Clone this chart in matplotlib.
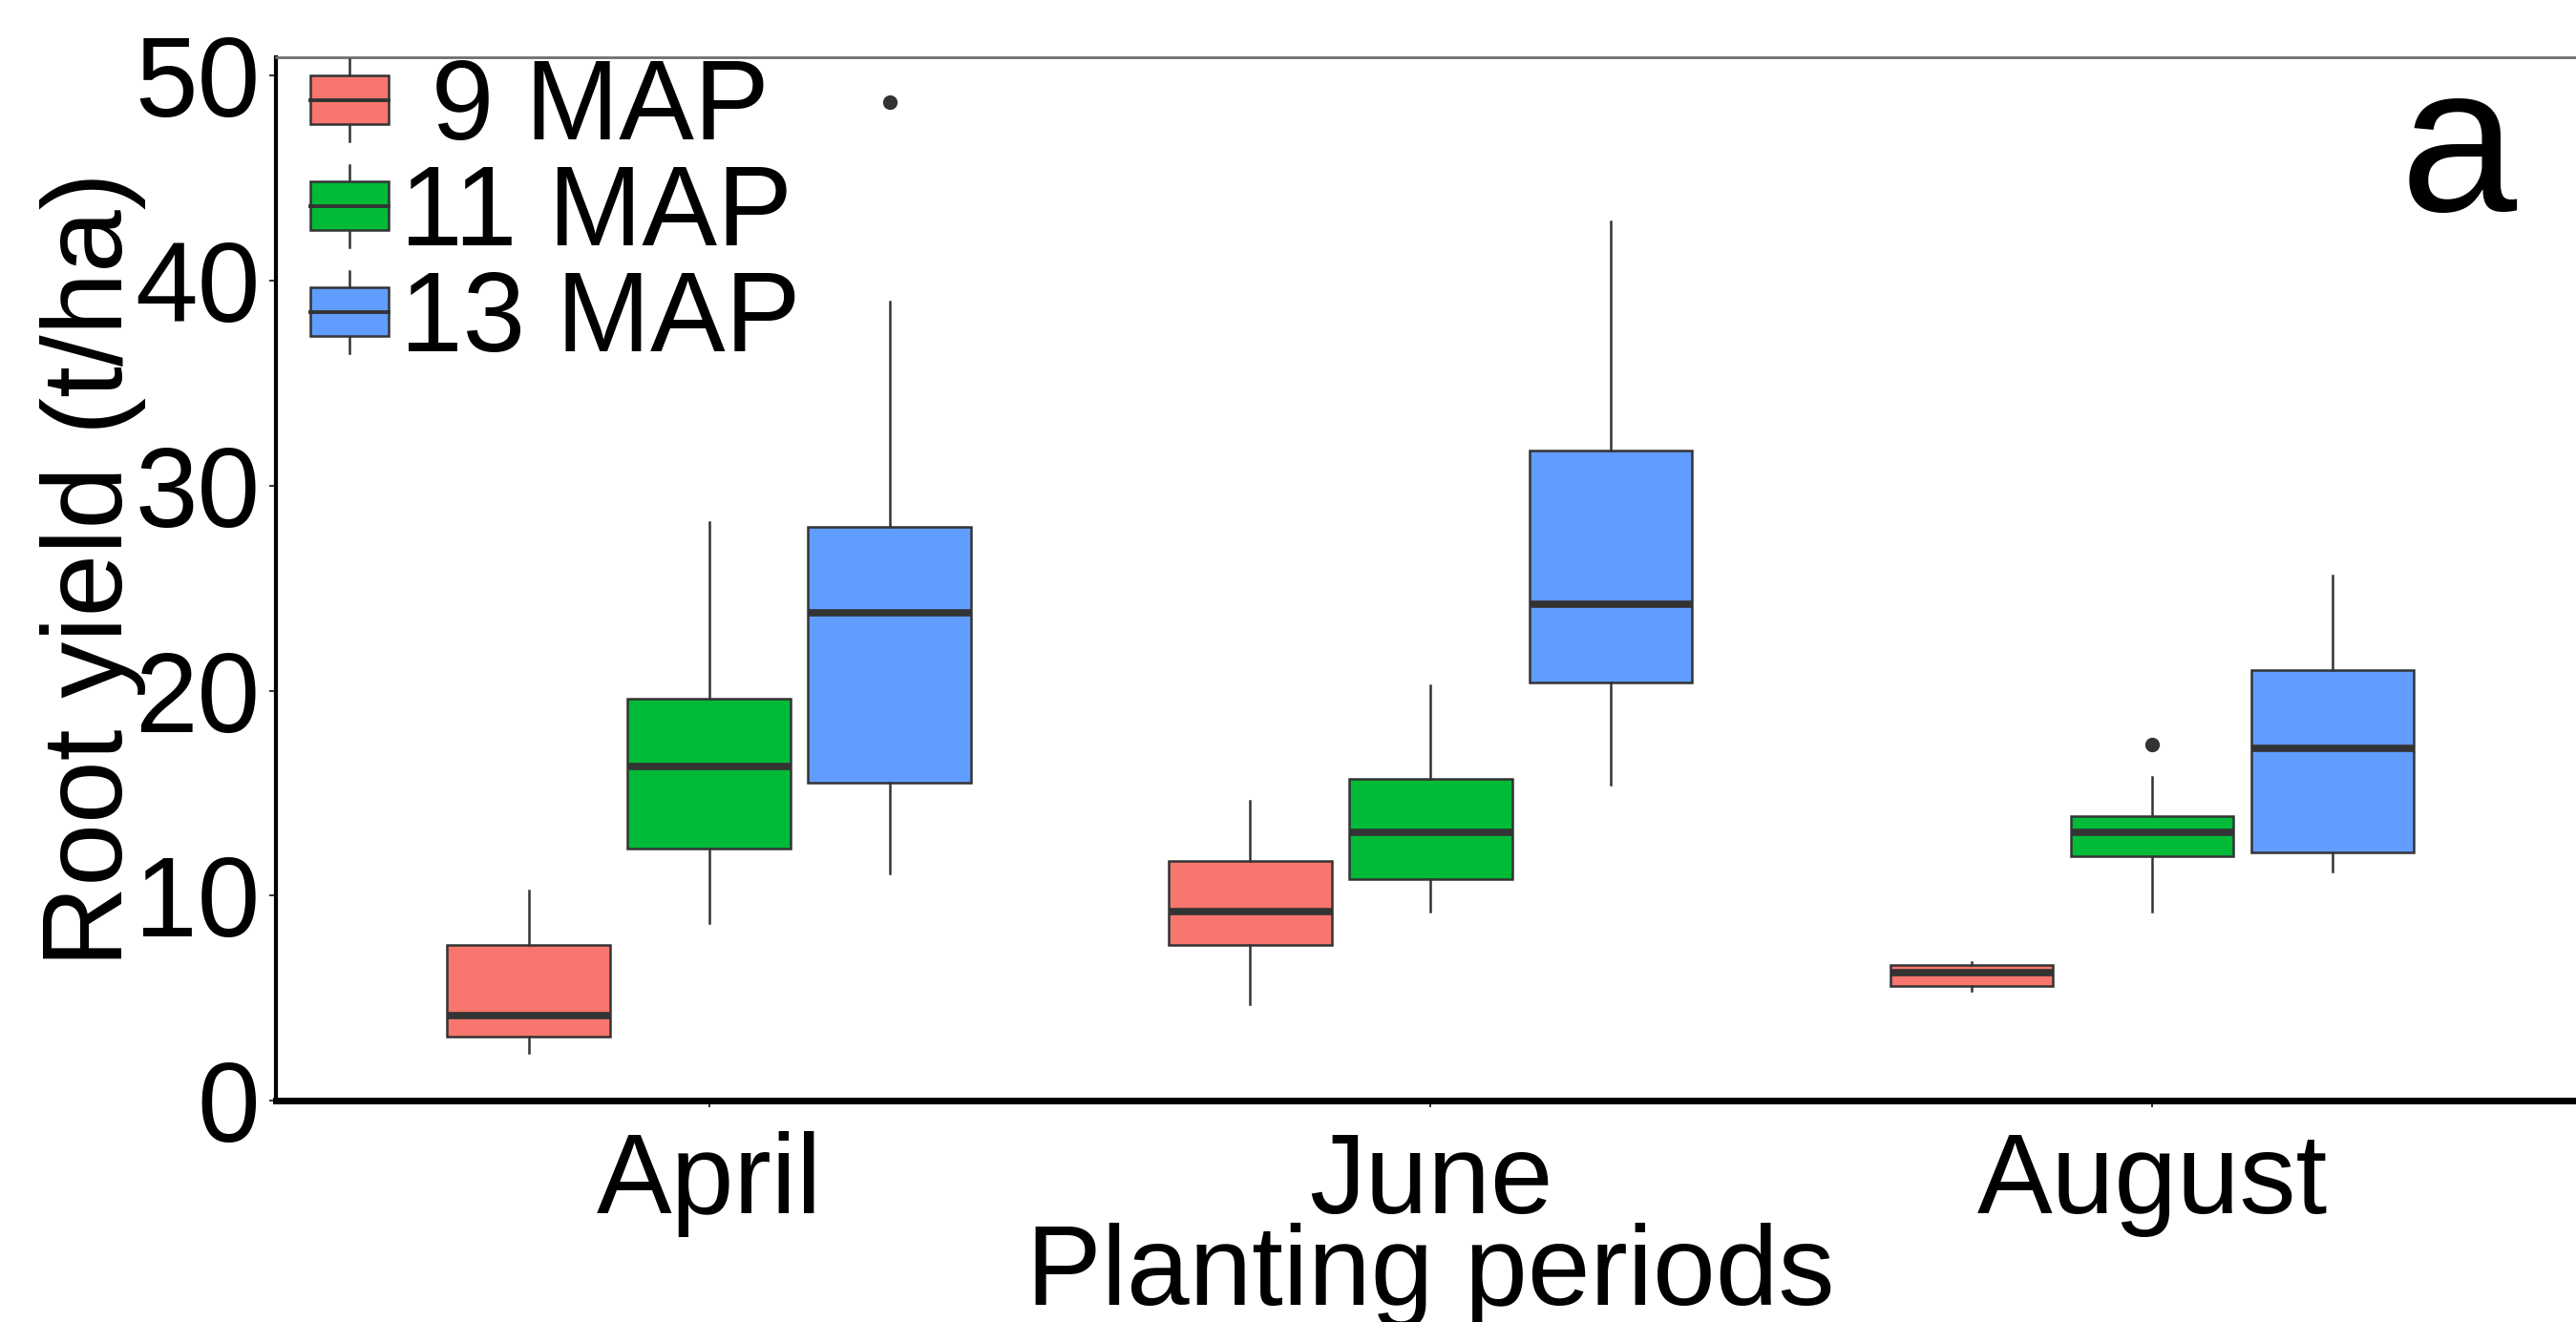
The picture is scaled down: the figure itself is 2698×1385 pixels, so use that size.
import matplotlib
matplotlib.use("Agg")
import matplotlib.pyplot as plt
from matplotlib.legend_handler import HandlerBase
from matplotlib.lines import Line2D
from matplotlib.patches import Patch, Rectangle

plt.rcParams["font.family"] = ["Liberation Sans", "DejaVu Sans"]

# ---- data -----------------------------------------------------------------
periods = ["April", "June", "August"]
groups = ["9 MAP", "11 MAP", "13 MAP"]
colors = ["#F8766D", "#00BA38", "#619CFF"]

# five-number summaries, one value per planting period (April, June, August)
map9_low = [2.35, 4.7, 5.35]
map9_q1 = [3.1, 7.6, 5.6]
map9_med = [4.15, 9.2, 6.25]
map9_q3 = [7.6, 11.7, 6.6]
map9_high = [10.25, 14.6, 6.75]
map9_out = [[], [], []]

map11_low = [8.65, 9.2, 9.2]
map11_q1 = [12.3, 10.8, 11.9]
map11_med = [16.3, 13.1, 13.1]
map11_q3 = [19.6, 15.7, 13.9]
map11_high = [28.2, 20.25, 15.8]
map11_out = [[], [], [17.35]]

map13_low = [11.1, 15.4, 11.2]
map13_q1 = [15.5, 20.4, 12.1]
map13_med = [23.8, 24.2, 17.2]
map13_q3 = [28.0, 31.7, 21.0]
map13_high = [39.0, 42.9, 25.6]
map13_out = [[48.7], [], []]

summaries = [
    (map9_low, map9_q1, map9_med, map9_q3, map9_high, map9_out),
    (map11_low, map11_q1, map11_med, map11_q3, map11_high, map11_out),
    (map13_low, map13_q1, map13_med, map13_q3, map13_high, map13_out),
]

EDGE = "#333333"
FS = 85
dodge = 0.25
box_w = 0.225


class BoxKeyHandler(HandlerBase):
    """Legend key drawn like a small boxplot (box, median, whiskers)."""

    def create_artists(self, legend, orig_handle, xdescent, ydescent,
                       width, height, fontsize, trans):
        x0, y0 = -xdescent, -ydescent
        cx = x0 + width / 2
        b0, b1 = y0 + height * 0.2, y0 + height * 0.8
        box = Rectangle((x0, b0), width, b1 - b0,
                        facecolor=orig_handle.get_facecolor(),
                        edgecolor=EDGE, lw=1.8, transform=trans)
        med = Line2D([x0, x0 + width], [(b0 + b1) / 2] * 2,
                     color=EDGE, lw=2.8, transform=trans)
        w_lo = Line2D([cx, cx], [y0, b0], color=EDGE, lw=1.8, transform=trans)
        w_hi = Line2D([cx, cx], [b1, y0 + height], color=EDGE, lw=1.8,
                      transform=trans)
        return [w_lo, w_hi, box, med]


fig = plt.figure(figsize=(26.98, 13.85), dpi=100)
ax = fig.add_axes([0.1071, 0.1675, 0.8966, 0.7892])

for gi, (low, q1, med, q3, high, out) in enumerate(summaries):
    stats = []
    for pi in range(len(periods)):
        stats.append({"whislo": low[pi], "q1": q1[pi], "med": med[pi],
                      "q3": q3[pi], "whishi": high[pi], "fliers": out[pi]})
    pos = [pi + 1 + (gi - 1) * dodge for pi in range(len(periods))]
    ax.bxp(stats, positions=pos, widths=box_w, patch_artist=True,
           showcaps=False, manage_ticks=False,
           boxprops=dict(facecolor=colors[gi], edgecolor=EDGE, lw=1.8),
           medianprops=dict(color=EDGE, lw=5.5, solid_capstyle="butt"),
           whiskerprops=dict(color=EDGE, lw=1.8),
           flierprops=dict(marker="o", markersize=10, markerfacecolor=EDGE,
                           markeredgecolor=EDGE))

ax.set_xlim(0.4, 3.6)
ax.set_ylim(0, 50.9)
ax.set_xticks(range(1, len(periods) + 1))
ax.set_xticklabels(periods)
ax.set_yticks(range(0, 51, 10))

ax.tick_params(axis="both", labelsize=FS, color=EDGE, length=5, width=1.4)
ax.tick_params(axis="x", pad=18)
ax.tick_params(axis="y", pad=7)

ax.spines["left"].set_linewidth(3)
ax.spines["left"].set_color("black")
ax.spines["bottom"].set_linewidth(5)
ax.spines["bottom"].set_color("black")
ax.spines["top"].set_linewidth(2)
ax.spines["top"].set_color("#6e6e6e")
ax.spines["right"].set_visible(False)

ax.set_xlabel("Planting periods", fontsize=FS)
ax.set_ylabel("Root yield (t/ha)", fontsize=FS)
ax.xaxis.set_label_coords(0.5, -0.117)
ax.yaxis.set_label_coords(-0.0562, 0.509)

handles = [Patch(facecolor=c) for c in colors]
labels = [f"{g:>6}" for g in groups]
ax.legend(handles, labels, loc="upper left", bbox_to_anchor=(0.015, 1.0),
          frameon=False, fontsize=FS, handler_map={Patch: BoxKeyHandler()},
          handlelength=0.69, handleheight=0.74, handletextpad=0.1,
          labelspacing=0.0, borderpad=0, borderaxespad=0)

fig.text(0.9318, 0.8404, "a", fontsize=158, ha="left", va="baseline")

fig.savefig("out.png", dpi=100)
